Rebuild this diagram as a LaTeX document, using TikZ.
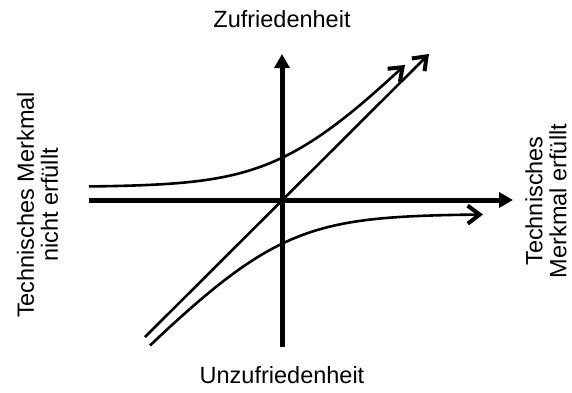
\documentclass[tikz,border=0pt]{standalone}
\usepackage{fontspec}
\setmainfont{Liberation Sans}
\usepackage{tikz}
\usetikzlibrary{arrows.meta}

\begin{document}
\begin{tikzpicture}[x=1pt, y=1pt,
	achse/.style={line width=5pt, -{Triangle[length=14pt, width=15pt]}},
	kurve/.style={line width=2.6pt, -{Straight Barb[length=12pt, width=18pt, line width=1.4pt 1]}},
	beschriftung/.style={font=\fontsize{23.5}{24}\selectfont, align=center, inner sep=0pt}]
	\useasboundingbox (-282, -192) rectangle (290, 200);
	
	\coordinate (links) at (-193, 0);
	\coordinate (rechts) at (231, 0);
	\coordinate (unten) at (0, -147);
	\coordinate (oben) at (0, 146);
	\draw[achse] (links) -- (rechts);
	\draw[achse] (unten) -- (oben);
	
	\coordinate (diagstart) at (-137, -137);
	\coordinate (diagende) at (147, 146);
	\draw[kurve] (diagstart) -- (diagende);
	
	\draw[kurve, domain=-193:123, samples=100] plot ({\x}, {45*ln(exp(13/45)+exp((\x+9)/45))});
	\draw[kurve, domain=-132:201, samples=100] plot ({\x}, {-45*ln(exp(14/45)+exp((11-\x)/45))});
	
	\node[beschriftung, anchor=base] (zufrieden) at (0, 173) {Zufriedenheit};
	\node[beschriftung, anchor=base] (unzufrieden) at (0, -183) {Unzufriedenheit};
	\node[beschriftung, rotate=90] (nichterfuellt) at (-244.5, -5) {Technisches Merkmal\\nicht erfüllt};
	\node[beschriftung, rotate=90] (erfuellt) at (264, -1) {Technisches\\Merkmal erfüllt};
\end{tikzpicture}
\end{document}
